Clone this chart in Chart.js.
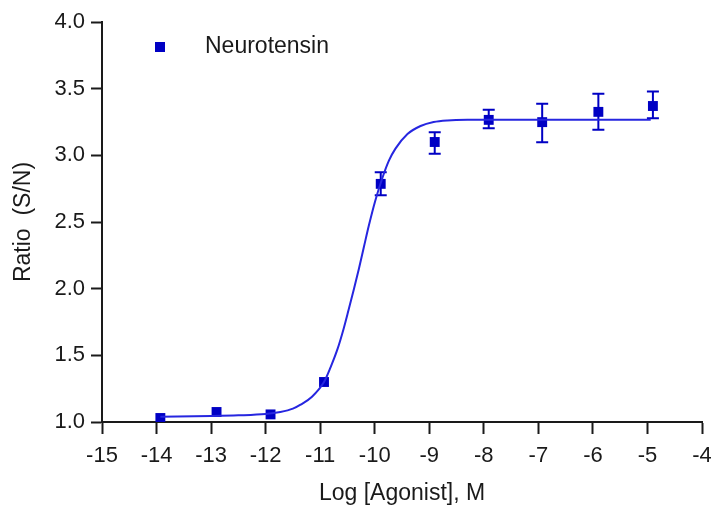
<!DOCTYPE html>
<html>
<head>
<meta charset="utf-8">
<script src="https://cdn.jsdelivr.net/npm/chart.js@4/dist/chart.umd.min.js"></script>
<style>
html,body{margin:0;padding:0;background:#fff;}
canvas{display:block;}
</style>
</head>
<body>
<canvas id="c" width="711" height="508"></canvas>
<script>
// ---- data ----
const seriesName = "Neurotensin";
const logDose   = [-13.93, -12.90, -11.91, -10.93, -9.89, -8.90, -7.91, -6.93, -5.90, -4.90];
const ratioMean = [1.030, 1.075, 1.057, 1.300, 2.786, 3.100, 3.266, 3.249, 3.326, 3.370];
// error bar ends (0 = bar hidden behind the marker)
const errLow    = [0, 0, 0, 0, 2.700, 3.011, 3.204, 3.099, 3.191, 3.279];
const errHigh   = [0, 0, 0, 0, 2.874, 3.174, 3.341, 3.386, 3.461, 3.478];

// fitted curve, points
const curveX = [-13.93, -13.0, -12.5, -12.0, -11.73, -11.5, -11.36, -11.15, -10.93, -10.81, -10.68, -10.57, -10.48, -10.38, -10.29, -10.20, -10.11, -9.99, -9.86, -9.74, -9.62, -9.40, -9.16, -8.92, -8.67, -8.30, -4.94];
const curveY = [1.040, 1.045, 1.050, 1.060, 1.075, 1.100, 1.130, 1.190, 1.300, 1.410, 1.550, 1.700, 1.840, 2.000, 2.150, 2.310, 2.470, 2.660, 2.830, 2.960, 3.050, 3.160, 3.220, 3.250, 3.262, 3.266, 3.266];

const xTickValues = [-15, -14, -13, -12, -11, -10, -9, -8, -7, -6, -5, -4];
const yTickValues = [1.0, 1.5, 2.0, 2.5, 3.0, 3.5, 4.0];
const xTitle = "Log [Agonist], M";
const yTitle = "Ratio  (S/N)";

const FONT = "'Liberation Sans', Arial, sans-serif";
const TXT = '#1a1a1a';
const PT = '#0000c4';
const LINE = '#2626e0';

const errorBars = {
  id: 'errorBars',
  beforeDatasetsDraw(chart) {
    const {ctx, scales: {x, y}} = chart;
    ctx.save();
    ctx.strokeStyle = PT;
    ctx.lineWidth = 2;
    for (let i = 0; i < logDose.length; i++) {
      if (!errLow[i] || !errHigh[i]) continue;
      const px = x.getPixelForValue(logDose[i]);
      const lo = y.getPixelForValue(errLow[i]);
      const hi = y.getPixelForValue(errHigh[i]);
      ctx.beginPath();
      ctx.moveTo(px, lo); ctx.lineTo(px, hi);
      ctx.moveTo(px - 6, lo); ctx.lineTo(px + 6, lo);
      ctx.moveTo(px - 6, hi); ctx.lineTo(px + 6, hi);
      ctx.stroke();
    }
    ctx.restore();
  }
};

const insideLegend = {
  id: 'insideLegend',
  afterDraw(chart) {
    const {ctx} = chart;
    ctx.save();
    ctx.fillStyle = PT;
    ctx.fillRect(155, 42, 10, 10);
    ctx.fillStyle = TXT;
    ctx.font = "23px " + FONT;
    ctx.textBaseline = 'middle';
    ctx.textAlign = 'left';
    ctx.fillText(seriesName, 205, 47);
    ctx.restore();
  }
};

new Chart(document.getElementById('c'), {
  type: 'scatter',
  data: {
    datasets: [
      {
        type: 'line',
        label: 'fit',
        data: curveX.map((v, i) => ({x: v, y: curveY[i]})),
        borderColor: LINE,
        borderWidth: 2,
        pointRadius: 0,
        fill: false,
        cubicInterpolationMode: 'monotone'
      },
      {
        label: seriesName,
        data: logDose.map((v, i) => ({x: v, y: ratioMean[i]})),
        pointStyle: 'rect',
        pointRadius: 7,
        pointHoverRadius: 7,
        backgroundColor: PT,
        borderColor: PT,
        borderWidth: 0,
        showLine: false
      }
    ]
  },
  options: {
    responsive: false,
    animation: false,
    devicePixelRatio: 1,
    layout: {padding: {left: 0, right: 9, top: 22, bottom: 0}},
    plugins: {legend: {display: false}, tooltip: {enabled: false}},
    scales: {
      x: {
        type: 'linear',
        min: -15, max: -4,
        afterBuildTicks: s => { s.ticks = xTickValues.map(v => ({value: v})); },
        afterFit: s => { s.height = 86; s.paddingLeft = 0; s.paddingRight = 0; },
        ticks: {
          color: TXT, font: {family: FONT, size: 22}, padding: 9,
          maxRotation: 0, autoSkip: false,
          callback: v => String(v)
        },
        grid: {display: true, drawOnChartArea: false, drawTicks: true, tickLength: 12, tickColor: TXT, tickWidth: 2},
        border: {display: true, color: TXT, width: 2},
        title: {display: true, text: xTitle, color: TXT, font: {family: FONT, size: 23}, padding: {top: 0, bottom: 1}}
      },
      y: {
        type: 'linear',
        min: 1.0, max: 4.0,
        afterBuildTicks: s => { s.ticks = yTickValues.map(v => ({value: v})); },
        afterFit: s => { s.width = 102; s.paddingTop = 0; s.paddingBottom = 0; },
        ticks: {
          color: TXT, font: {family: FONT, size: 22}, padding: 6,
          callback: v => Number(v).toFixed(1)
        },
        grid: {display: true, drawOnChartArea: false, drawTicks: true, tickLength: 11, tickColor: TXT, tickWidth: 2},
        border: {display: true, color: TXT, width: 2},
        title: {display: true, text: yTitle, color: TXT, font: {family: FONT, size: 23}, padding: {top: 10, bottom: 0}}
      }
    }
  },
  plugins: [errorBars, insideLegend]
});
</script>
</body>
</html>
